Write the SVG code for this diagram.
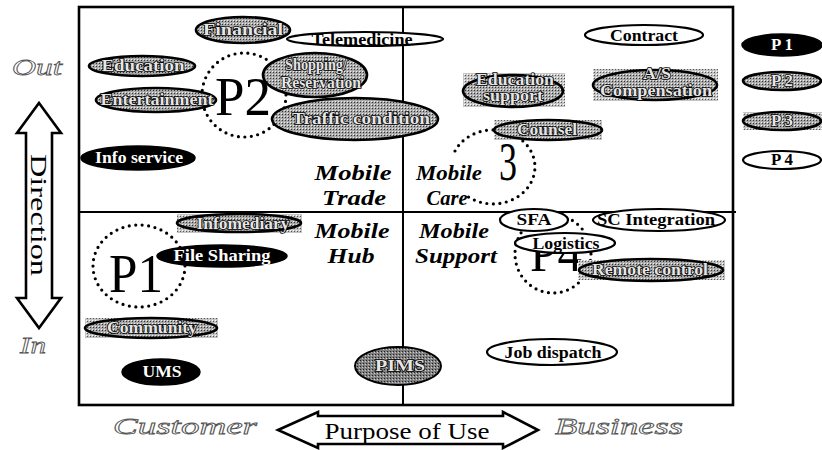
<svg xmlns="http://www.w3.org/2000/svg" width="822" height="450" viewBox="0 0 822 450">
<style>
text{font-family:"Liberation Serif","Times New Roman",serif}
.lb{font-size:16px;font-weight:bold;text-anchor:middle}
.tw{fill:#fff}
.tk{fill:#000}
.tg{fill:#e6e6e6;stroke:#000;stroke-width:1.6;paint-order:stroke}
.w{fill:#fff;stroke:#000;stroke-width:2.2}
.b{fill:#000;stroke:#000;stroke-width:1.5}
.g{fill:url(#stip);stroke:#000;stroke-width:2.6}
.gd{fill:url(#stipd);stroke:#000;stroke-width:2}
.bg{fill:url(#stipl);stroke:none}
.dot{fill:none;stroke:#000;stroke-width:3.2;stroke-linecap:round;stroke-dasharray:0 6.5}
.mob{font-size:22px;font-weight:bold;font-style:italic;text-anchor:middle}
.big{font-size:54px;text-anchor:middle}
.ax{font-size:24px;font-style:italic;fill:#fff;stroke:#555;stroke-width:0.8}
.arr{fill:#fff;stroke:#000;stroke-width:2.6;stroke-linejoin:miter}
</style>
<defs>
<pattern id="stip" width="3" height="3" patternUnits="userSpaceOnUse"><rect width="3" height="3" fill="#a8a8a8"/><rect width="1" height="1" fill="#333"/><rect x="2" y="2" width="1" height="1" fill="#eee"/></pattern>
<pattern id="stipd" width="3" height="3" patternUnits="userSpaceOnUse"><rect width="3" height="3" fill="#808080"/><rect width="1" height="1" fill="#222"/><rect x="2" y="1" width="1" height="1" fill="#ccc"/></pattern>
<pattern id="stipl" width="3" height="3" patternUnits="userSpaceOnUse"><rect width="3" height="3" fill="#c4c4c4"/><rect width="1" height="1" fill="#555"/><rect x="2" y="2" width="1" height="1" fill="#fff"/></pattern>
</defs>
<rect width="822" height="450" fill="#fff"/>

<g id="frame" fill="none" stroke="#000">
<rect x="79" y="7" width="654" height="398" stroke-width="2.6"/>
<line x1="403" y1="7" x2="403" y2="405" stroke-width="2"/>
<line x1="79" y1="212" x2="736" y2="212" stroke-width="2"/>
</g>

<g id="axes">
<text class="ax" x="37" y="75" text-anchor="middle" textLength="50" lengthAdjust="spacingAndGlyphs">Out</text>
<text class="ax" x="33" y="353" text-anchor="middle" textLength="26" lengthAdjust="spacingAndGlyphs">In</text>
<polygon class="arr" points="39,103 61,133 52,133 52,298 61,298 39,328 17,298 26,298 26,133 17,133"/>
<text x="39" y="215" transform="rotate(90 39 215)" font-size="24" text-anchor="middle" dominant-baseline="central" textLength="122" lengthAdjust="spacingAndGlyphs">Direction</text>
<text class="ax" x="185" y="434" text-anchor="middle" textLength="144" lengthAdjust="spacingAndGlyphs">Customer</text>
<polygon class="arr" points="278,430 318,412 318,416 503,416 503,412 538,430 503,448 503,444 318,444 318,448"/>
<text x="407" y="439" font-size="24" text-anchor="middle" textLength="165" lengthAdjust="spacingAndGlyphs">Purpose of Use</text>
<text class="ax" x="619" y="434" text-anchor="middle" textLength="128" lengthAdjust="spacingAndGlyphs">Business</text>
</g>

<g id="circles">
<circle class="dot" cx="244" cy="95" r="42"/>
<ellipse class="dot" cx="139" cy="266" rx="46" ry="41"/>
<path class="dot" d="M455,151 A42,37 0 1,1 467,196"/>
<ellipse class="dot" cx="553" cy="254" rx="38" ry="39"/>
</g>

<g id="quadrant-labels">
<text class="mob" x="353" y="180" textLength="77" lengthAdjust="spacingAndGlyphs">Mobile</text>
<text class="mob" x="354" y="205" textLength="64" lengthAdjust="spacingAndGlyphs">Trade</text>
<text class="mob" x="449" y="180" textLength="66" lengthAdjust="spacingAndGlyphs">Mobile</text>
<text class="mob" x="447" y="205" textLength="41" lengthAdjust="spacingAndGlyphs">Care</text>
<text class="mob" x="352" y="238" textLength="75" lengthAdjust="spacingAndGlyphs">Mobile</text>
<text class="mob" x="351" y="263" textLength="47" lengthAdjust="spacingAndGlyphs">Hub</text>
<text class="mob" x="454" y="238" textLength="70" lengthAdjust="spacingAndGlyphs">Mobile</text>
<text class="mob" x="456" y="263" textLength="82" lengthAdjust="spacingAndGlyphs">Support</text>
</g>

<g id="phase-labels">
<text class="big" x="243" y="115" textLength="56" lengthAdjust="spacingAndGlyphs">P2</text>
<text class="big" x="508" y="180" font-size="40" textLength="18" lengthAdjust="spacingAndGlyphs">3</text>
<text class="big" x="136" y="292" font-size="58" textLength="54" lengthAdjust="spacingAndGlyphs">P1</text>
<text class="big" x="556" y="271" font-size="38" textLength="52" lengthAdjust="spacingAndGlyphs">P4</text>
</g>

<g id="financial"><ellipse class="g" cx="243" cy="30" rx="47" ry="13"/><text class="lb tg" x="243" y="35" textLength="80" lengthAdjust="spacingAndGlyphs">Financial</text></g>
<g id="telemedicine"><ellipse class="w" cx="365" cy="39" rx="78" ry="7"/><text class="lb tk" x="362" y="45" font-size="15" textLength="101" lengthAdjust="spacingAndGlyphs">Telemedicine</text></g>
<g id="education"><ellipse class="g" cx="142" cy="66" rx="53" ry="10"/><text class="lb tg" x="143" y="71" textLength="83" lengthAdjust="spacingAndGlyphs">Education</text></g>
<g id="entertainment"><ellipse class="g" cx="156" cy="100" rx="60" ry="12"/><text class="lb tg" x="157" y="105" textLength="113" lengthAdjust="spacingAndGlyphs">Entertainment</text></g>
<g id="shopping"><ellipse class="g" cx="315" cy="75" rx="52" ry="22"/><text class="lb tg" x="316" y="70" font-size="15" textLength="62" lengthAdjust="spacingAndGlyphs">Shopping/</text><text class="lb tg" x="321" y="88" font-size="15" textLength="80" lengthAdjust="spacingAndGlyphs">Reservation</text></g>
<g id="traffic"><ellipse class="g" cx="355" cy="119" rx="83" ry="21"/><text class="lb tg" x="361" y="124" textLength="138" lengthAdjust="spacingAndGlyphs">Traffic condition</text></g>
<g id="infoservice"><ellipse class="b" cx="138" cy="158" rx="57" ry="12"/><text class="lb tw" x="139" y="163" textLength="88" lengthAdjust="spacingAndGlyphs">Info service</text></g>
<g id="contract"><ellipse class="w" cx="644" cy="35" rx="59" ry="10"/><text class="lb tk" x="644" y="41" textLength="68" lengthAdjust="spacingAndGlyphs">Contract</text></g>
<g id="edusupport"><rect class="bg" x="463" y="73" width="102" height="34"/><ellipse class="g" cx="513" cy="91" rx="50" ry="16"/><text class="lb tg" x="515" y="85" font-size="13" textLength="78" lengthAdjust="spacingAndGlyphs">Education</text><text class="lb tg" x="513" y="101" font-size="13" textLength="60" lengthAdjust="spacingAndGlyphs">support</text></g>
<g id="ascompensation"><rect class="bg" x="593" y="69" width="125" height="32"/><ellipse class="g" cx="655" cy="85" rx="62" ry="15"/><text class="lb tg" x="657" y="79" font-size="13" textLength="28" lengthAdjust="spacingAndGlyphs">A/S</text><text class="lb tg" x="656" y="96" font-size="13" textLength="112" lengthAdjust="spacingAndGlyphs">Compensation</text></g>
<g id="counsel"><rect class="bg" x="494" y="120" width="108" height="20"/><ellipse class="g" cx="548" cy="130" rx="54" ry="10"/><text class="lb tg" x="547" y="135" textLength="60" lengthAdjust="spacingAndGlyphs">Counsel</text></g>
<g id="infomediary"><rect class="bg" x="177" y="214" width="125" height="19"/><ellipse class="g" cx="239" cy="223" rx="62" ry="9"/><text class="lb tg" x="243" y="229" textLength="93" lengthAdjust="spacingAndGlyphs">Infomediary</text></g>
<g id="filesharing"><ellipse class="b" cx="222" cy="256" rx="65" ry="11"/><text class="lb tw" x="222" y="261" textLength="97" lengthAdjust="spacingAndGlyphs">File Sharing</text></g>
<g id="community"><rect class="bg" x="85" y="318" width="133" height="20"/><ellipse class="g" cx="151" cy="328" rx="66" ry="10"/><text class="lb tg" x="152" y="333" textLength="90" lengthAdjust="spacingAndGlyphs">Community</text></g>
<g id="ums"><ellipse class="b" cx="161" cy="372" rx="39" ry="13"/><text class="lb tw" x="162" y="377" textLength="39" lengthAdjust="spacingAndGlyphs">UMS</text></g>
<g id="pims"><ellipse class="gd" cx="398" cy="366" rx="43" ry="19"/><text class="lb tg" x="400" y="371" textLength="50" lengthAdjust="spacingAndGlyphs">PIMS</text></g>
<g id="sfa"><ellipse class="w" cx="534" cy="220" rx="34" ry="11"/><text class="lb tk" x="534" y="225" textLength="35" lengthAdjust="spacingAndGlyphs">SFA</text></g>
<g id="scintegration"><ellipse class="w" cx="659" cy="220" rx="66" ry="11"/><text class="lb tk" x="656" y="225" textLength="118" lengthAdjust="spacingAndGlyphs">SC Integration</text></g>
<g id="logistics"><ellipse class="w" cx="565" cy="243" rx="50" ry="10"/><text class="lb tk" x="566" y="249" textLength="67" lengthAdjust="spacingAndGlyphs">Logistics</text></g>
<g id="remotecontrol"><rect class="bg" x="578" y="260" width="147" height="20"/><ellipse class="g" cx="651" cy="270" rx="72" ry="11"/><text class="lb tg" x="650" y="275" textLength="116" lengthAdjust="spacingAndGlyphs">Remote control</text></g>
<g id="jobdispatch"><ellipse class="w" cx="552" cy="352" rx="65" ry="13"/><text class="lb tk" x="553" y="358" textLength="97" lengthAdjust="spacingAndGlyphs">Job dispatch</text></g>

<g id="legend-p1"><ellipse class="b" cx="782" cy="45" rx="40" ry="11"/><text class="lb tw" x="782" y="50" font-size="14" textLength="22" lengthAdjust="spacingAndGlyphs">P 1</text></g>
<g id="legend-p2"><ellipse class="g" cx="782" cy="81" rx="39" ry="9"/><text class="lb tg" x="782" y="86" font-size="14" textLength="22" lengthAdjust="spacingAndGlyphs">P 2</text></g>
<g id="legend-p3"><rect class="bg" x="743" y="112" width="79" height="18"/><ellipse class="g" cx="782" cy="121" rx="39" ry="9"/><text class="lb tg" x="782" y="126" font-size="14" textLength="22" lengthAdjust="spacingAndGlyphs">P 3</text></g>
<g id="legend-p4"><ellipse class="w" cx="782" cy="160" rx="39" ry="9"/><text class="lb tk" x="782" y="165" font-size="14" textLength="22" lengthAdjust="spacingAndGlyphs">P 4</text></g>

<g id="connectors"></g>
</svg>
